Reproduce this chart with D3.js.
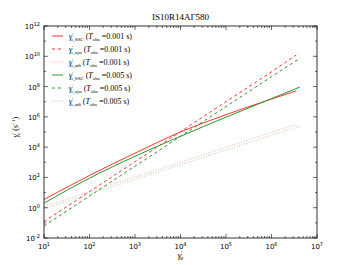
<!DOCTYPE html>
<html>
<head>
<meta charset="utf-8">
<script src="https://cdn.jsdelivr.net/npm/d3@7"></script>
<style>
  html, body { margin: 0; padding: 0; background: #fff; }
  svg { display: block; }
  .tick-label { font-family: 'DejaVu Sans', sans-serif; font-size: 7px; fill: #000; }
  .serif { font-family: 'Liberation Serif', 'DejaVu Serif', serif; fill: #000; }
</style>
</head>
<body>
<div id="chart"></div>
<script>
// values
const gammaRed = [1e1, 1e2, 1e3, 1e4, 1e5, 1e6, 3.5e6]
const gammaGreen = [1e1, 1e2, 1e3, 1e4, 1e5, 1e6, 4.2e6]

const sscRed = [3.5, 135, 4.0e3, 1.0e5, 1.4e6, 1.5e7, 5.2e7]
const synRed = [0.12, 11.5, 1.1e3, 1.05e5, 1.0e7, 9.5e8, 1.2e10]
const adiRed = [1.17, 11.2, 107, 1.02e3, 9.8e3, 9.3e4, 3.2e5]

const sscGreen = [2.0, 89, 2.5e3, 5.2e4, 9.5e5, 1.6e7, 9.3e7]
const synGreen = [0.063, 5.9, 550, 5.1e4, 4.8e6, 4.5e8, 7.4e9]
const adiGreen = [0.85, 7.9, 74, 690, 6.5e3, 6.0e4, 2.4e5]

const xTicks = [1e1, 1e2, 1e3, 1e4, 1e5, 1e6, 1e7]
const yTicks = [1e-2, 1e0, 1e2, 1e4, 1e6, 1e8, 1e10, 1e12]

const series = [
  { kind: 'SSC', tobs: '0.001', color: '#ff3030', dash: null, opacity: 1, x: gammaRed, y: sscRed },
  { kind: 'syn', tobs: '0.001', color: '#ff3030', dash: '3,3', opacity: 1, x: gammaRed, y: synRed },
  { kind: 'adi', tobs: '0.001', color: '#ff3030', dash: '1,1.5', opacity: 0.4, x: gammaRed, y: adiRed },
  { kind: 'SSC', tobs: '0.005', color: '#2a962a', dash: null, opacity: 1, x: gammaGreen, y: sscGreen },
  { kind: 'syn', tobs: '0.005', color: '#2a962a', dash: '3,3', opacity: 1, x: gammaGreen, y: synGreen },
  { kind: 'adi', tobs: '0.005', color: '#2a962a', dash: '1,1.5', opacity: 0.4, x: gammaGreen, y: adiGreen },
]

const W = 353, H = 265
const margin = { top: 26, right: 36, bottom: 27, left: 44 }
const iw = W - margin.left - margin.right
const ih = H - margin.top - margin.bottom

const svg = d3.select('#chart').append('svg').attr('width', W).attr('height', H)
const g = svg.append('g').attr('transform', `translate(${margin.left},${margin.top})`)

const x = d3.scaleLog().domain([1e1, 1e7]).range([0, iw])
const y = d3.scaleLog().domain([1e-2, 1e12]).range([ih, 0])

// minor ticks
const xMinor = []
for (let e = 1; e < 7; e++) for (let m = 2; m < 10; m++) xMinor.push(m * Math.pow(10, e))
const yMinor = [1e-1, 1e1, 1e3, 1e5, 1e7, 1e9, 1e11]

function sup(sel, base, exp) {
  sel.append('tspan').text(base)
  sel.append('tspan').attr('dy', -3).attr('font-size', 5).text(exp)
}

// ticks (inward, all four sides)
const tk = g.append('g').attr('stroke', '#000').attr('stroke-width', 0.6)
xTicks.forEach(v => {
  tk.append('line').attr('x1', x(v)).attr('x2', x(v)).attr('y1', ih).attr('y2', ih - 4)
  tk.append('line').attr('x1', x(v)).attr('x2', x(v)).attr('y1', 0).attr('y2', 4)
})
xMinor.forEach(v => {
  tk.append('line').attr('x1', x(v)).attr('x2', x(v)).attr('y1', ih).attr('y2', ih - 2)
  tk.append('line').attr('x1', x(v)).attr('x2', x(v)).attr('y1', 0).attr('y2', 2)
})
yTicks.forEach(v => {
  tk.append('line').attr('x1', 0).attr('x2', 4).attr('y1', y(v)).attr('y2', y(v))
  tk.append('line').attr('x1', iw).attr('x2', iw - 4).attr('y1', y(v)).attr('y2', y(v))
})
yMinor.forEach(v => {
  tk.append('line').attr('x1', 0).attr('x2', 2).attr('y1', y(v)).attr('y2', y(v))
  tk.append('line').attr('x1', iw).attr('x2', iw - 2).attr('y1', y(v)).attr('y2', y(v))
})

// tick labels
xTicks.forEach(v => {
  const t = g.append('text').attr('class', 'tick-label')
    .attr('x', x(v)).attr('y', ih + 11).attr('text-anchor', 'middle')
  sup(t, '10', Math.round(Math.log10(v)))
})
yTicks.forEach(v => {
  const t = g.append('text').attr('class', 'tick-label')
    .attr('x', -4).attr('y', y(v) + 3).attr('text-anchor', 'end')
  sup(t, '10', Math.round(Math.log10(v)))
})

// lines
const clip = svg.append('clipPath').attr('id', 'clip')
clip.append('rect').attr('width', iw).attr('height', ih)
const lines = g.append('g').attr('clip-path', 'url(#clip)')
series.forEach(s => {
  const pts = s.x.map((v, i) => [v, s.y[i]])
  lines.append('path')
    .datum(pts)
    .attr('fill', 'none')
    .attr('stroke', s.color)
    .attr('stroke-width', 1)
    .attr('stroke-opacity', s.opacity)
    .attr('stroke-dasharray', s.dash)
    .attr('d', d3.line().x(d => x(d[0])).y(d => y(d[1])).curve(d3.curveMonotoneX))
})

// frame
g.append('rect').attr('width', iw).attr('height', ih)
  .attr('fill', 'none').attr('stroke', '#000').attr('stroke-width', 0.8)

// legend
const leg = g.append('g').attr('transform', 'translate(8,10)')
series.forEach((s, i) => {
  const row = leg.append('g').attr('transform', `translate(0,${i * 13})`)
  row.append('line').attr('x1', 0).attr('x2', 11).attr('y1', 0).attr('y2', 0)
    .attr('stroke', s.color).attr('stroke-width', 1)
    .attr('stroke-opacity', s.opacity).attr('stroke-dasharray', s.dash)
  const t = row.append('text').attr('class', 'serif').attr('x', 17).attr('y', 3).attr('font-size', 8)
  t.append('tspan').attr('font-style', 'italic').text('γ')
  t.append('tspan').attr('dy', -3).attr('font-size', 5).text('′')
  t.append('tspan').attr('dx', -2).attr('dy', 5).attr('font-size', 5).text('e,' + s.kind)
  t.append('tspan').attr('dy', -2).text(' (')
  t.append('tspan').attr('font-style', 'italic').text('T')
  t.append('tspan').attr('dy', 2).attr('font-size', 5).text('obs')
  t.append('tspan').attr('dy', -2).text(' =' + s.tobs + ' s)')
})

// title and axis labels
svg.append('text').attr('class', 'serif').attr('x', margin.left + iw / 2).attr('y', 20)
  .attr('text-anchor', 'middle').attr('font-size', 9).text('IS10R14AΓ580')

const xl = svg.append('text').attr('class', 'serif').attr('font-size', 9)
  .attr('x', margin.left + iw / 2).attr('y', 258).attr('text-anchor', 'middle')
xl.append('tspan').attr('font-style', 'italic').text('γ')
xl.append('tspan').attr('dy', -3).attr('font-size', 6).text('′')
xl.append('tspan').attr('dx', -2).attr('dy', 5).attr('font-size', 6).text('e')

const yl = svg.append('text').attr('class', 'serif').attr('font-size', 8)
  .attr('transform', `translate(18,${margin.top + ih / 2 - 5}) rotate(-90)`).attr('text-anchor', 'middle')
yl.append('tspan').attr('font-style', 'italic').text('γ')
yl.append('tspan').attr('dy', -3).attr('font-size', 5).text('′')
yl.append('tspan').attr('dx', -2).attr('dy', 5).attr('font-size', 5).text('e')
yl.append('tspan').attr('dy', -2).text(' (s')
yl.append('tspan').attr('dy', -3).attr('font-size', 5).text('−1')
yl.append('tspan').attr('dy', 3).text(')')
</script>
</body>
</html>
